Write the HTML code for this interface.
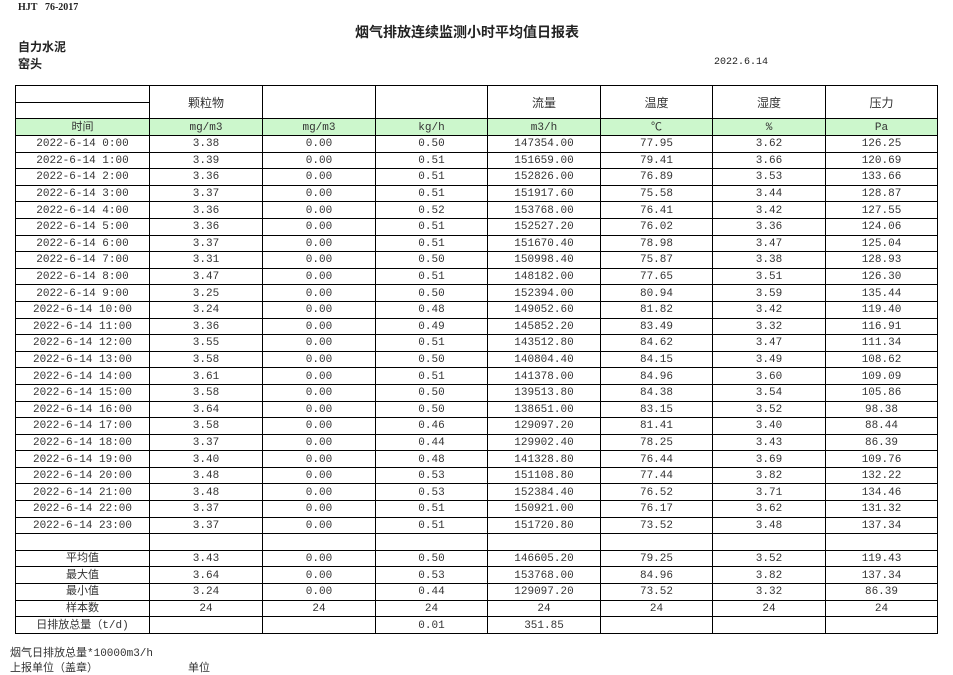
<!DOCTYPE html>
<html><head><meta charset="utf-8"><style>
body{margin:0;width:953px;height:674px;background:#fff;position:relative;font-family:"Liberation Mono","Noto Sans CJK SC",monospace;color:#222;overflow:hidden}
.a{position:absolute;white-space:nowrap}
table{position:absolute;left:15px;top:85px;border-collapse:collapse;table-layout:fixed;width:922px;font-size:11px;color:#333}
td{border:1px solid #000;text-align:center;padding:2px 0 0 0;height:13.6px;line-height:13px;overflow:hidden;white-space:nowrap}
tr.g td{background:#ccf7cc;height:14px}
.h td{font-family:"Liberation Sans","Noto Sans CJK SC",sans-serif;font-size:12px}
</style></head><body>
<div class="a" style="left:18px;top:2px;font-size:10px;font-weight:bold;font-family:'Liberation Serif',serif">HJT&nbsp;&nbsp; 76-2017</div>
<div class="a" style="left:355px;top:22px;font-size:14px;font-weight:bold;font-family:'Noto Sans CJK SC',sans-serif">烟气排放连续监测小时平均值日报表</div>
<div class="a" style="left:18px;top:38px;font-size:12px;font-weight:bold;font-family:'Noto Sans CJK SC',sans-serif">自力水泥</div>
<div class="a" style="left:18px;top:55px;font-size:12px;font-weight:bold;font-family:'Noto Sans CJK SC',sans-serif">窑头</div>
<div class="a" style="left:714px;top:57px;font-size:10px">2022.6.14</div>
<table>
<colgroup><col style="width:134px"><col style="width:113px"><col style="width:113px"><col style="width:112px"><col style="width:113px"><col style="width:112px"><col style="width:113px"><col style="width:112px"></colgroup>
<tr class="h"><td style="height:14px"></td><td rowspan="2">颗粒物</td><td rowspan="2"></td><td rowspan="2"></td><td rowspan="2">流量</td><td rowspan="2">温度</td><td rowspan="2">湿度</td><td rowspan="2">压力</td></tr>
<tr><td style="height:13px"></td></tr>
<tr class="g"><td>时间</td><td>mg/m3</td><td>mg/m3</td><td>kg/h</td><td>m3/h</td><td>℃</td><td>%</td><td>Pa</td></tr>
<tr><td>2022-6-14 0:00</td><td>3.38</td><td>0.00</td><td>0.50</td><td>147354.00</td><td>77.95</td><td>3.62</td><td>126.25</td></tr>
<tr><td>2022-6-14 1:00</td><td>3.39</td><td>0.00</td><td>0.51</td><td>151659.00</td><td>79.41</td><td>3.66</td><td>120.69</td></tr>
<tr><td>2022-6-14 2:00</td><td>3.36</td><td>0.00</td><td>0.51</td><td>152826.00</td><td>76.89</td><td>3.53</td><td>133.66</td></tr>
<tr><td>2022-6-14 3:00</td><td>3.37</td><td>0.00</td><td>0.51</td><td>151917.60</td><td>75.58</td><td>3.44</td><td>128.87</td></tr>
<tr><td>2022-6-14 4:00</td><td>3.36</td><td>0.00</td><td>0.52</td><td>153768.00</td><td>76.41</td><td>3.42</td><td>127.55</td></tr>
<tr><td>2022-6-14 5:00</td><td>3.36</td><td>0.00</td><td>0.51</td><td>152527.20</td><td>76.02</td><td>3.36</td><td>124.06</td></tr>
<tr><td>2022-6-14 6:00</td><td>3.37</td><td>0.00</td><td>0.51</td><td>151670.40</td><td>78.98</td><td>3.47</td><td>125.04</td></tr>
<tr><td>2022-6-14 7:00</td><td>3.31</td><td>0.00</td><td>0.50</td><td>150998.40</td><td>75.87</td><td>3.38</td><td>128.93</td></tr>
<tr><td>2022-6-14 8:00</td><td>3.47</td><td>0.00</td><td>0.51</td><td>148182.00</td><td>77.65</td><td>3.51</td><td>126.30</td></tr>
<tr><td>2022-6-14 9:00</td><td>3.25</td><td>0.00</td><td>0.50</td><td>152394.00</td><td>80.94</td><td>3.59</td><td>135.44</td></tr>
<tr><td>2022-6-14 10:00</td><td>3.24</td><td>0.00</td><td>0.48</td><td>149052.60</td><td>81.82</td><td>3.42</td><td>119.40</td></tr>
<tr><td>2022-6-14 11:00</td><td>3.36</td><td>0.00</td><td>0.49</td><td>145852.20</td><td>83.49</td><td>3.32</td><td>116.91</td></tr>
<tr><td>2022-6-14 12:00</td><td>3.55</td><td>0.00</td><td>0.51</td><td>143512.80</td><td>84.62</td><td>3.47</td><td>111.34</td></tr>
<tr><td>2022-6-14 13:00</td><td>3.58</td><td>0.00</td><td>0.50</td><td>140804.40</td><td>84.15</td><td>3.49</td><td>108.62</td></tr>
<tr><td>2022-6-14 14:00</td><td>3.61</td><td>0.00</td><td>0.51</td><td>141378.00</td><td>84.96</td><td>3.60</td><td>109.09</td></tr>
<tr><td>2022-6-14 15:00</td><td>3.58</td><td>0.00</td><td>0.50</td><td>139513.80</td><td>84.38</td><td>3.54</td><td>105.86</td></tr>
<tr><td>2022-6-14 16:00</td><td>3.64</td><td>0.00</td><td>0.50</td><td>138651.00</td><td>83.15</td><td>3.52</td><td>98.38</td></tr>
<tr><td>2022-6-14 17:00</td><td>3.58</td><td>0.00</td><td>0.46</td><td>129097.20</td><td>81.41</td><td>3.40</td><td>88.44</td></tr>
<tr><td>2022-6-14 18:00</td><td>3.37</td><td>0.00</td><td>0.44</td><td>129902.40</td><td>78.25</td><td>3.43</td><td>86.39</td></tr>
<tr><td>2022-6-14 19:00</td><td>3.40</td><td>0.00</td><td>0.48</td><td>141328.80</td><td>76.44</td><td>3.69</td><td>109.76</td></tr>
<tr><td>2022-6-14 20:00</td><td>3.48</td><td>0.00</td><td>0.53</td><td>151108.80</td><td>77.44</td><td>3.82</td><td>132.22</td></tr>
<tr><td>2022-6-14 21:00</td><td>3.48</td><td>0.00</td><td>0.53</td><td>152384.40</td><td>76.52</td><td>3.71</td><td>134.46</td></tr>
<tr><td>2022-6-14 22:00</td><td>3.37</td><td>0.00</td><td>0.51</td><td>150921.00</td><td>76.17</td><td>3.62</td><td>131.32</td></tr>
<tr><td>2022-6-14 23:00</td><td>3.37</td><td>0.00</td><td>0.51</td><td>151720.80</td><td>73.52</td><td>3.48</td><td>137.34</td></tr>
<tr><td></td><td></td><td></td><td></td><td></td><td></td><td></td><td></td></tr>
<tr><td>平均值</td><td>3.43</td><td>0.00</td><td>0.50</td><td>146605.20</td><td>79.25</td><td>3.52</td><td>119.43</td></tr>
<tr><td>最大值</td><td>3.64</td><td>0.00</td><td>0.53</td><td>153768.00</td><td>84.96</td><td>3.82</td><td>137.34</td></tr>
<tr><td>最小值</td><td>3.24</td><td>0.00</td><td>0.44</td><td>129097.20</td><td>73.52</td><td>3.32</td><td>86.39</td></tr>
<tr><td>样本数</td><td>24</td><td>24</td><td>24</td><td>24</td><td>24</td><td>24</td><td>24</td></tr>
<tr><td style="height:12px;line-height:12px;padding-top:1px">日排放总量（t/d)</td><td></td><td></td><td>0.01</td><td>351.85</td><td></td><td></td><td></td></tr>
</table>
<div class="a" style="left:10px;top:644px;font-size:11px;color:#333">烟气日排放总量*10000m3/h</div>
<div class="a" style="left:10px;top:659px;font-size:11px;color:#333">上报单位（盖章）</div>
<div class="a" style="left:188px;top:659px;font-size:11px;color:#333">单位</div>
</body></html>
